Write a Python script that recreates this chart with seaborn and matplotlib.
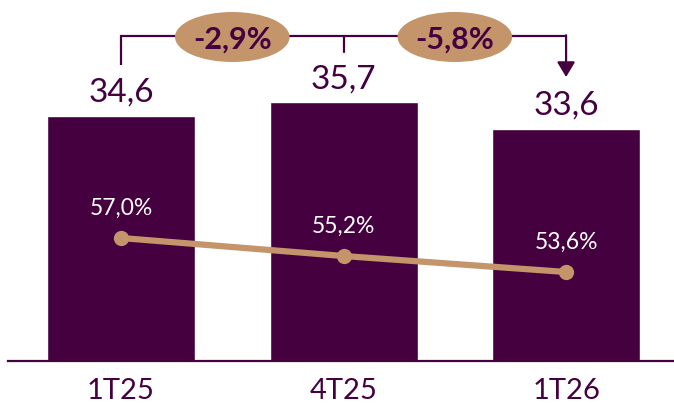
import matplotlib
matplotlib.use("Agg")
import matplotlib.pyplot as plt
import seaborn as sns
import pandas as pd
from matplotlib.patches import Ellipse

categories = ["1T25", "4T25", "1T26"]
volumes = [34.6, 35.7, 33.6]
volume_labels = ["34,6", "35,7", "33,6"]
ratios = [57.0, 55.2, 53.6]
ratio_labels = ["57,0%", "55,2%", "53,6%"]
changes = ["-2,9%", "-5,8%"]

PURPLE = "#45003F"
TAN = "#C4946A"

sns.set_theme(style="white")
plt.rcParams["font.family"] = ["Lato", "DejaVu Sans"]

fig = plt.figure(figsize=(6.74, 4.03), dpi=100)
ax = fig.add_axes([8 / 674, 42 / 403, 666 / 674, 361 / 403])
df = pd.DataFrame({"cat": categories, "vol": volumes})
sns.barplot(data=df, x="cat", y="vol", color=PURPLE, saturation=1,
            width=0.665, ax=ax, zorder=2)
ax.set_xlim(-0.508, 2.485)
ylo = 15.0
ax.set_ylim(ylo, ylo + 361 / 12.5)
ax.set_xlabel("")
ax.set_ylabel("")
ax.set_yticks([])
for s in ["top", "left", "right"]:
    ax.spines[s].set_visible(False)
ax.spines["bottom"].set_color(PURPLE)
ax.spines["bottom"].set_linewidth(1.6)
ax.spines["bottom"].set_zorder(3)
ax.tick_params(axis="x", length=0, pad=12, labelsize=21, labelcolor=PURPLE)

# value labels above bars
for i, (v, lbl) in enumerate(zip(volumes, volume_labels)):
    ax.text(i, v + 1.12, lbl, ha="center", va="baseline",
            fontsize=24, color=PURPLE)

# bracket
yb = 41.0
ax.plot([0, 0, 2], [38.68, yb, yb], color=PURPLE, lw=1.6,
        solid_capstyle="butt", solid_joinstyle="miter", zorder=3)
ax.plot([1, 1], [yb, 39.72], color=PURPLE, lw=1.6, zorder=3)
ax.annotate("", xy=(2, 37.72), xytext=(2, yb + 0.06),
            arrowprops=dict(arrowstyle="-|>,head_length=0.75,head_width=0.45",
                            lw=1.6, color=PURPLE, shrinkA=0, shrinkB=0),
            zorder=3)
for k, lbl in enumerate(changes):
    cx = 0.5 + k
    ax.add_patch(Ellipse((cx, 40.92), 0.515, 4.0, facecolor=TAN,
                         edgecolor="none", zorder=4, clip_on=False))
    ax.text(cx, 40.92, lbl, ha="center", va="center_baseline",
            fontsize=22, fontweight="bold", color=PURPLE, zorder=5)

# ratio line on secondary axis
ax2 = ax.twinx()
sns.lineplot(x=[0, 1, 2], y=ratios, ax=ax2, color=TAN, lw=4.5,
             marker="o", markersize=11, markeredgewidth=0)
ax2.set_ylim(44.7, 80.8)
ax2.set_yticks([])
ax2.set_ylabel("")
for s in ax2.spines.values():
    s.set_visible(False)
for i, (r, lbl) in enumerate(zip(ratios, ratio_labels)):
    ax2.text(i, r + 2.3, lbl, ha="center", va="baseline",
             fontsize=16.5, color="white")

fig.savefig("out.png", dpi=100)
